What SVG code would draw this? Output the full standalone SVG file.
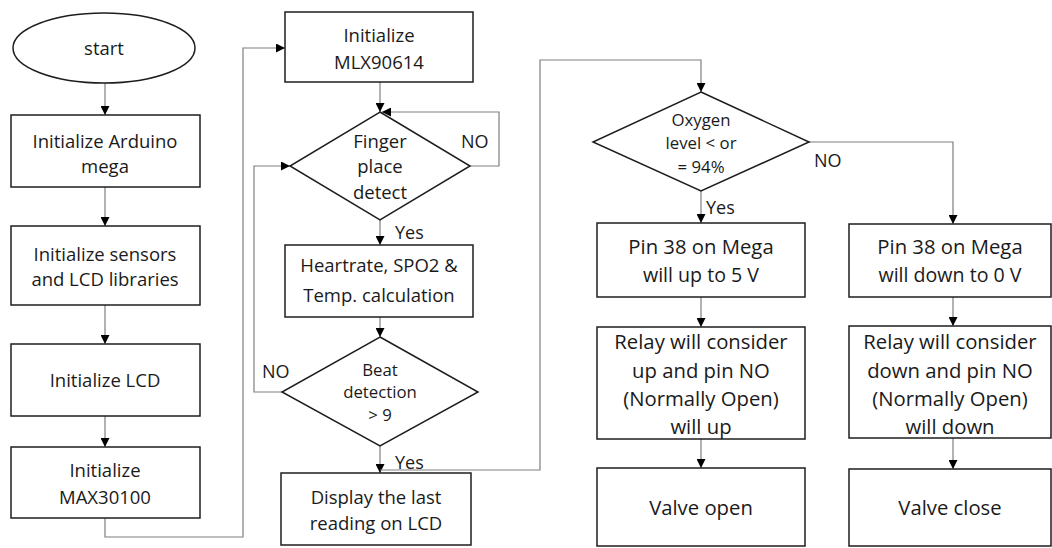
<svg xmlns="http://www.w3.org/2000/svg" width="1052" height="548" viewBox="0 0 1052 548">
<style>
.n{fill:#fff;stroke:#1e1e1e;stroke-width:1.5}
.t{font-family:"Open Sans","Noto Sans",sans-serif;font-size:18.5px;fill:#1a1a1a;text-anchor:middle}
.b{font-size:20.3px}
.p{font-size:19.6px}
.s{font-size:16.8px}
.c{fill:none;stroke:#7f7f7f;stroke-width:1.2}
.l{font-family:"Open Sans","Noto Sans",sans-serif;font-size:18px;fill:#1a1a1a}
</style>
<defs>
<marker id="ah" viewBox="0 0 10 10" refX="10" refY="5" markerWidth="9" markerHeight="9" markerUnits="userSpaceOnUse" orient="auto">
<path d="M0,0 L10,5 L0,10 z" fill="#000"/>
</marker>
</defs>
<rect width="1052" height="548" fill="#fff"/>
<g id="connectors">
<path class="c" d="M105,83 V115" marker-end="url(#ah)"/>
<path class="c" d="M105,187 V226" marker-end="url(#ah)"/>
<path class="c" d="M105,305 V344" marker-end="url(#ah)"/>
<path class="c" d="M105,416 V447" marker-end="url(#ah)"/>
<path class="c" d="M105,518 V537 H243 V48 H285" marker-end="url(#ah)"/>
<path class="c" d="M380,82 V112" marker-end="url(#ah)"/>
<path class="c" d="M470,166 H499 V112 H382" marker-end="url(#ah)"/>
<path class="c" d="M380,220 V245" marker-end="url(#ah)"/>
<path class="c" d="M380,317 V337" marker-end="url(#ah)"/>
<path class="c" d="M282,392 H254 V166 H290" marker-end="url(#ah)"/>
<path class="c" d="M380,446 V473" marker-end="url(#ah)"/>
<path class="c" d="M380,470 H540 V60 H701 V92" marker-end="url(#ah)"/>
<path class="c" d="M701,191 V223" marker-end="url(#ah)"/>
<path class="c" d="M809,142 H953 V224" marker-end="url(#ah)"/>
<path class="c" d="M701,297 V327" marker-end="url(#ah)"/>
<path class="c" d="M701,439 V468" marker-end="url(#ah)"/>
<path class="c" d="M953,297 V326" marker-end="url(#ah)"/>
<path class="c" d="M953,438 V469" marker-end="url(#ah)"/>
<text class="l" x="461" y="148">NO</text>
<text class="l" x="395" y="239">Yes</text>
<text class="l" x="262" y="378">NO</text>
<text class="l" x="395" y="469">Yes</text>
<text class="l" x="706" y="214">Yes</text>
<text class="l" x="814" y="167">NO</text>
</g>
<g id="start">
<ellipse class="n" cx="104" cy="48" rx="91" ry="35"/>
<text class="t" x="104" y="55">start</text>
</g>
<g id="init-arduino">
<rect class="n" x="11" y="115" width="189" height="72"/>
<text class="t" x="105" y="148">Initialize Arduino</text>
<text class="t" x="105" y="173">mega</text>
</g>
<g id="init-sensors">
<rect class="n" x="11" y="226" width="189" height="79"/>
<text class="t" x="105" y="261">Initialize sensors</text>
<text class="t" x="105" y="286">and LCD libraries</text>
</g>
<g id="init-lcd">
<rect class="n" x="11" y="344" width="189" height="72"/>
<text class="t" x="105" y="387">Initialize LCD</text>
</g>
<g id="init-max">
<rect class="n" x="11" y="447" width="189" height="71"/>
<text class="t" x="105" y="477">Initialize</text>
<text class="t" x="105" y="504">MAX30100</text>
</g>
<g id="init-mlx">
<rect class="n" x="285" y="12" width="188" height="70"/>
<text class="t" x="379" y="42">Initialize</text>
<text class="t" x="379" y="69">MLX90614</text>
</g>
<g id="finger">
<polygon class="n" points="380,112 470,166 380,220 290,166"/>
<text class="t" x="380" y="148">Finger</text>
<text class="t" x="380" y="173">place</text>
<text class="t" x="380" y="199">detect</text>
</g>
<g id="calc">
<rect class="n" x="285" y="245" width="188" height="72"/>
<text class="t" x="379" y="272">Heartrate, SPO2 &amp;</text>
<text class="t" x="379" y="302">Temp. calculation</text>
</g>
<g id="beat">
<polygon class="n" points="380,337 478,392 380,446 282,392"/>
<text class="t s" x="380" y="376">Beat</text>
<text class="t s" x="380" y="398">detection</text>
<text class="t s" x="380" y="421">&gt; 9</text>
</g>
<g id="display">
<rect class="n" x="281" y="473" width="190" height="72"/>
<text class="t" x="376" y="504">Display the last</text>
<text class="t" x="376" y="530">reading on LCD</text>
</g>
<g id="oxygen">
<polygon class="n" points="701,92 809,142 701,191 593,142"/>
<text class="t s" x="701" y="126">Oxygen</text>
<text class="t s" x="701" y="149">level &lt; or</text>
<text class="t s" x="701" y="173">= 94%</text>
</g>
<g id="pin-up">
<rect class="n" x="597" y="223" width="208" height="74"/>
<text class="t b" x="701" y="254">Pin 38 on Mega</text>
<text class="t b p" x="701" y="282">will up to 5 V</text>
</g>
<g id="relay-up">
<rect class="n" x="597" y="327" width="208" height="112"/>
<text class="t b" x="701" y="349">Relay will consider</text>
<text class="t b" x="701" y="378">up and pin NO</text>
<text class="t b" x="701" y="406">(Normally Open)</text>
<text class="t b" x="701" y="434">will up</text>
</g>
<g id="valve-open">
<rect class="n" x="597" y="468" width="208" height="78"/>
<text class="t b" x="701" y="515">Valve open</text>
</g>
<g id="pin-down">
<rect class="n" x="849" y="224" width="202" height="73"/>
<text class="t b" x="950" y="254">Pin 38 on Mega</text>
<text class="t b p" x="950" y="282">will down to 0 V</text>
</g>
<g id="relay-down">
<rect class="n" x="849" y="326" width="202" height="112"/>
<text class="t b" x="950" y="349">Relay will consider</text>
<text class="t b" x="950" y="378">down and pin NO</text>
<text class="t b" x="950" y="406">(Normally Open)</text>
<text class="t b" x="950" y="434">will down</text>
</g>
<g id="valve-close">
<rect class="n" x="849" y="469" width="202" height="77"/>
<text class="t b" x="950" y="515">Valve close</text>
</g>
</svg>
